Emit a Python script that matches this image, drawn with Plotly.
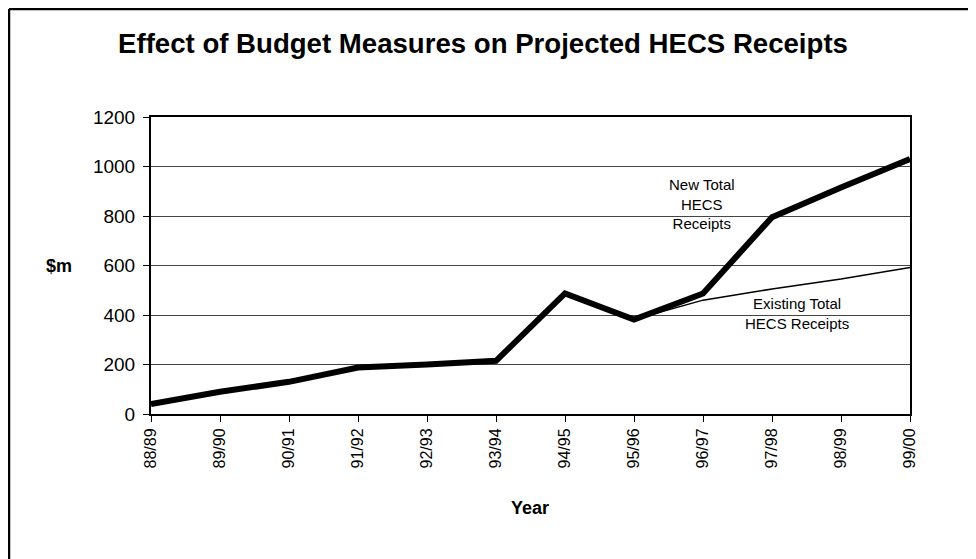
import plotly.graph_objects as go

years = ["88/89", "89/90", "90/91", "91/92", "92/93", "93/94",
         "94/95", "95/96", "96/97", "97/98", "98/99", "99/00"]
new_total = [40, 90, 130, 188, 200, 215, 487, 382, 487, 795, 915, 1030]
existing_total = [40, 90, 130, 188, 200, 215, 487, 382, 460, 505, 545, 592]
y_ticks = [0, 200, 400, 600, 800, 1000, 1200]

FONT = "Liberation Sans, Arial, sans-serif"

OFF = 8  # page offset of the figure in the screenshot
W, H = 976 - OFF, 559 - OFF
# plot area in screenshot pixels
SX0, SX1, SY0, SY1 = 151, 910, 117, 414
L, T = SX0 - OFF, SY0 - OFF
R, B = W - (SX1 - OFF), H - (SY1 - OFF)
PW, PH = SX1 - SX0, SY1 - SY0


def px(x):
    return (x - SX0) / PW


def py(y):
    return (SY1 - y) / PH


fig = go.Figure()
fig.add_trace(go.Scatter(x=years, y=existing_total, mode="lines",
                         line=dict(color="black", width=1.5),
                         name="Existing Total HECS Receipts", showlegend=False))
fig.add_trace(go.Scatter(x=years, y=new_total, mode="lines",
                         line=dict(color="black", width=6),
                         name="New Total HECS Receipts", showlegend=False))

fig.update_layout(
    width=W, height=H,
    margin=dict(l=L, r=R, t=T, b=B),
    paper_bgcolor="white", plot_bgcolor="white",
    font=dict(family=FONT, color="black"),
    title=dict(text="<b>Effect of Budget Measures on Projected HECS Receipts</b>",
               x=(483 - OFF) / W, xref="container", xanchor="center",
               y=1 - (43 - OFF) / H, yanchor="middle",
               font=dict(size=27.6, family=FONT, color="black")),
    xaxis=dict(type="category", range=[0, len(years) - 1],
               tickangle=-90, tickfont=dict(size=16),
               showline=True, linecolor="black", linewidth=2, mirror=True,
               ticks="outside", ticklen=6, tickcolor="black", tickwidth=1,
               showgrid=False, zeroline=False),
    yaxis=dict(range=[0, 1200], tickvals=y_ticks, tickfont=dict(size=19),
               showline=True, linecolor="black", linewidth=2, mirror=True,
               ticks="outside", ticklen=6, tickcolor="black", tickwidth=1,
               ticklabelstandoff=4,
               showgrid=True, gridcolor="#444", gridwidth=1, zeroline=False),
    annotations=[
        dict(text="<b>$m</b>", x=px(59), y=py(266), xref="paper", yref="paper",
             showarrow=False, font=dict(size=18), xanchor="center", yanchor="middle"),
        dict(text="<b>Year</b>", x=px(530), y=py(508), xref="paper", yref="paper",
             showarrow=False, font=dict(size=18), xanchor="center", yanchor="middle"),
        dict(text="New Total<br>HECS<br>Receipts", x=px(702), y=py(204), xref="paper", yref="paper",
             showarrow=False, font=dict(size=15), xanchor="center", yanchor="middle",
             align="center"),
        dict(text="Existing Total<br>HECS Receipts", x=px(797), y=py(313), xref="paper", yref="paper",
             showarrow=False, font=dict(size=15), xanchor="center", yanchor="middle",
             align="center"),
    ],
    shapes=[
        dict(type="line", xref="paper", yref="paper", x0=px(9), x1=px(990),
             y0=py(9), y1=py(9), line=dict(color="black", width=2.5)),
        dict(type="line", xref="paper", yref="paper", x0=px(9), x1=px(9),
             y0=py(9), y1=py(570), line=dict(color="black", width=2.5)),
    ],
)

fig.write_html("out.html")
